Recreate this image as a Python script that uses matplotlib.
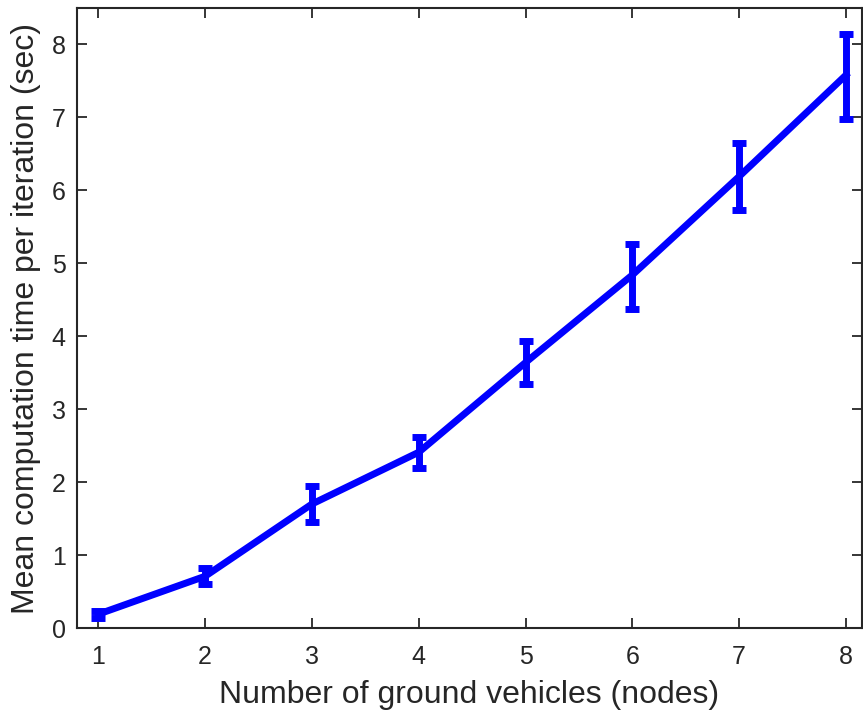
import matplotlib.pyplot as plt
import numpy as np

# data
nodes = [1, 2, 3, 4, 5, 6, 7, 8]
mean_time = [0.19, 0.71, 1.70, 2.41, 3.64, 4.84, 6.19, 7.58]
err_low = [0.14, 0.60, 1.45, 2.20, 3.35, 4.38, 5.73, 6.98]
err_high = [0.24, 0.82, 1.95, 2.62, 3.93, 5.26, 6.65, 8.15]

plt.rcParams['font.family'] = ['Liberation Sans', 'DejaVu Sans']

fig = plt.figure(figsize=(8.63, 7.18), dpi=100)
ax = fig.add_axes([0.0892, 0.1253, 0.9096, 0.8636])

m = np.array(mean_time)
yerr = [m - np.array(err_low), np.array(err_high) - m]
ax.errorbar(nodes, mean_time, yerr=yerr, color='#0000ff', linewidth=5,
            elinewidth=5, capsize=5.2, capthick=5)

ax.set_xlim(0.8, 8.15)
ax.set_ylim(0, 8.5)
ax.set_xticks(nodes)
ax.set_yticks(range(0, 9))
ax.tick_params(direction='in', top=True, right=True, length=7, width=1.3,
               labelsize=18, colors='#262626')
ax.tick_params(axis='x', pad=12)
ax.tick_params(axis='y', pad=8)
for s in ax.spines.values():
    s.set_linewidth(1.5)
    s.set_color('#262626')

ax.set_xlabel('Number of ground vehicles (nodes)', fontsize=23, color='#262626',
              labelpad=8)
ax.set_ylabel('Mean computation time per iteration (sec)', fontsize=23,
              color='#262626', labelpad=8)

fig.savefig('out.png', dpi=100)
